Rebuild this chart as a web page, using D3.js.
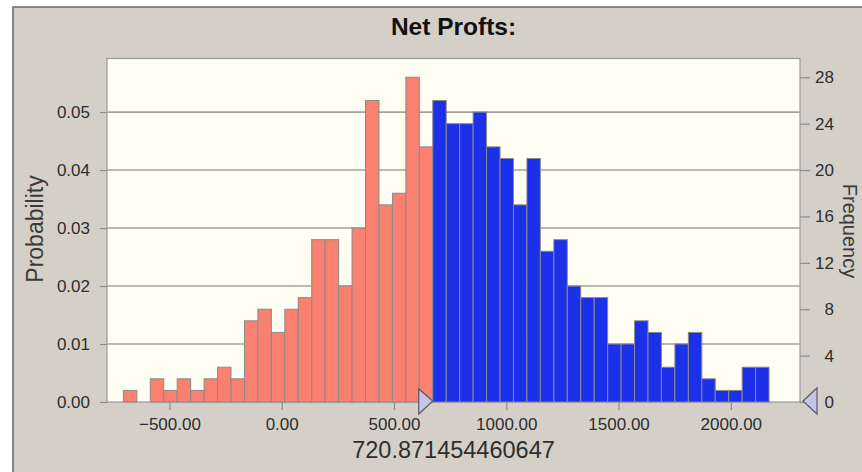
<!DOCTYPE html>
<html>
<head>
<meta charset="utf-8">
<script src="https://cdn.jsdelivr.net/npm/d3@7/dist/d3.min.js"></script>
<style>
  html, body { margin: 0; padding: 0; background: #ffffff; }
  svg { display: block; font-family: "Liberation Sans", Arial, sans-serif; }
</style>
</head>
<body>
<svg id="chart" width="862" height="472"></svg>
<script>
// Simulated net profit histogram: 48 equal-width bins, counts per bin
const binStart = -705;
const binWidth = 59.9;
const frequencies = [
  1, 0, 2, 1, 2, 1, 2, 3, 2, 7, 8, 6, 8, 9, 14, 14, 10, 15, 26, 17, 18, 28, 22,
  26, 24, 24, 25, 22, 21, 17, 21, 13, 14, 10, 9, 9, 5, 5, 7, 6, 3, 5, 6, 2, 1, 1, 3, 3
];
const trials = 500;
const threshold = 720.871454460647;
const thresholdLabel = "720.871454460647";
const title = "Net Profts:";
const probTicks = [0, 0.01, 0.02, 0.03, 0.04, 0.05];
const freqTicks = [0, 4, 8, 12, 16, 20, 24, 28];
const xTicks = [-500, 0, 500, 1000, 1500, 2000];
const xDomain = [-778, 2308];
const freqMax = 29.62;

const svg = d3.select("#chart");
const plot = { left: 107, right: 800, top: 58.5, bottom: 402 };

const bins = frequencies.map((f, i) => ({
  x0: binStart + i * binWidth,
  x1: binStart + (i + 1) * binWidth,
  freq: f
}));

const x = d3.scaleLinear().domain(xDomain).range([plot.left, plot.right]);
const yFreq = d3.scaleLinear().domain([0, freqMax]).range([plot.bottom, plot.top]);
const yProb = d3.scaleLinear().domain([0, freqMax / trials]).range([plot.bottom, plot.top]);

// Window panel
svg.append("rect")
  .attr("x", 13).attr("y", 7).attr("width", 870).attr("height", 480)
  .attr("fill", "#d4d0c8").attr("stroke", "#6f6f6f").attr("stroke-width", 1.6);

// Plot area
svg.append("rect")
  .attr("x", plot.left).attr("y", plot.top)
  .attr("width", plot.right - plot.left).attr("height", plot.bottom - plot.top)
  .attr("fill", "#fefef3").attr("stroke", "#9a9a9a").attr("stroke-width", 1.2);

// Horizontal grid at probability ticks
svg.append("g").selectAll("line")
  .data(probTicks.filter(d => d > 0))
  .join("line")
  .attr("x1", plot.left).attr("x2", plot.right)
  .attr("y1", d => yProb(d)).attr("y2", d => yProb(d))
  .attr("stroke", "#a3a39c").attr("stroke-width", 1.6);

// Bars: bins at or beyond the threshold bin in blue
const splitIndex = bins.findIndex(b => b.x1 > threshold);
svg.append("g").selectAll("rect")
  .data(bins.filter(b => b.freq > 0))
  .join("rect")
  .attr("x", d => x(d.x0))
  .attr("width", d => x(d.x1) - x(d.x0))
  .attr("y", d => yFreq(d.freq))
  .attr("height", d => yFreq(0) - yFreq(d.freq))
  .attr("fill", d => bins.indexOf(d) >= splitIndex ? "#1c30ea" : "#fa8070")
  .attr("stroke", "#8a8a8a").attr("stroke-width", 1);

// Left probability axis
const leftAxis = d3.axisLeft(yProb).tickValues(probTicks)
  .tickFormat(d3.format(".2f")).tickSize(7).tickPadding(10);
const gl = svg.append("g").attr("transform", `translate(${plot.left},0)`).call(leftAxis);

// Right frequency axis
const rightAxis = d3.axisRight(yFreq).tickValues(freqTicks)
  .tickFormat(d3.format("d")).tickSize(10).tickPadding(24);
const gr = svg.append("g").attr("transform", `translate(${plot.right},0)`).call(rightAxis);
gr.selectAll("text").attr("text-anchor", "end");

// Bottom value axis
const bottomAxis = d3.axisBottom(x).tickValues(xTicks)
  .tickFormat(d3.format(".2f")).tickSize(8).tickPadding(8);
const gb = svg.append("g").attr("transform", `translate(0,${plot.bottom})`).call(bottomAxis);

[gl, gr, gb].forEach(g => {
  g.select(".domain").remove();
  g.selectAll(".tick line").attr("stroke", "#8c8c8c").attr("stroke-width", 1.2);
  g.selectAll(".tick text")
    .attr("fill", "#2e2e2e")
    .style("font-size", "17px")
    .style("font-family", "'Liberation Sans', Arial, sans-serif");
});

// Threshold marker on the value axis
const markerX = x(bins[splitIndex].x0);
svg.append("path")
  .attr("d", `M${markerX - 14},${plot.bottom - 13} L${markerX},${plot.bottom - 1} L${markerX - 14},${plot.bottom + 12} Z`)
  .attr("fill", "#c5c5e6").attr("stroke", "#5a5a6a").attr("stroke-width", 1.2);

// Frequency-axis marker at zero
const zeroY = yFreq(0);
svg.append("path")
  .attr("d", `M${plot.right + 3},${zeroY - 1} L${plot.right + 17},${zeroY - 14} L${plot.right + 17},${zeroY + 12} Z`)
  .attr("fill", "#c5c5e6").attr("stroke", "#5a5a6a").attr("stroke-width", 1.2);

// Title
svg.append("text")
  .attr("x", (plot.left + plot.right) / 2).attr("y", 35)
  .attr("text-anchor", "middle")
  .attr("font-weight", "bold").attr("font-size", 24.5)
  .attr("fill", "#111")
  .text(title);

// Axis titles
svg.append("text")
  .attr("transform", `translate(43,229) rotate(-90)`)
  .attr("text-anchor", "middle").attr("font-size", 23)
  .attr("fill", "#3a3a3a")
  .text("Probability");

svg.append("text")
  .attr("transform", `translate(842.5,231) rotate(90)`)
  .attr("text-anchor", "middle").attr("font-size", 20)
  .attr("fill", "#3a3a3a")
  .text("Frequency");

// Threshold value readout
svg.append("text")
  .attr("x", (plot.left + plot.right) / 2).attr("y", 458)
  .attr("text-anchor", "middle").attr("font-size", 23.5)
  .attr("fill", "#2e2e2e")
  .text(thresholdLabel);
</script>
</body>
</html>
